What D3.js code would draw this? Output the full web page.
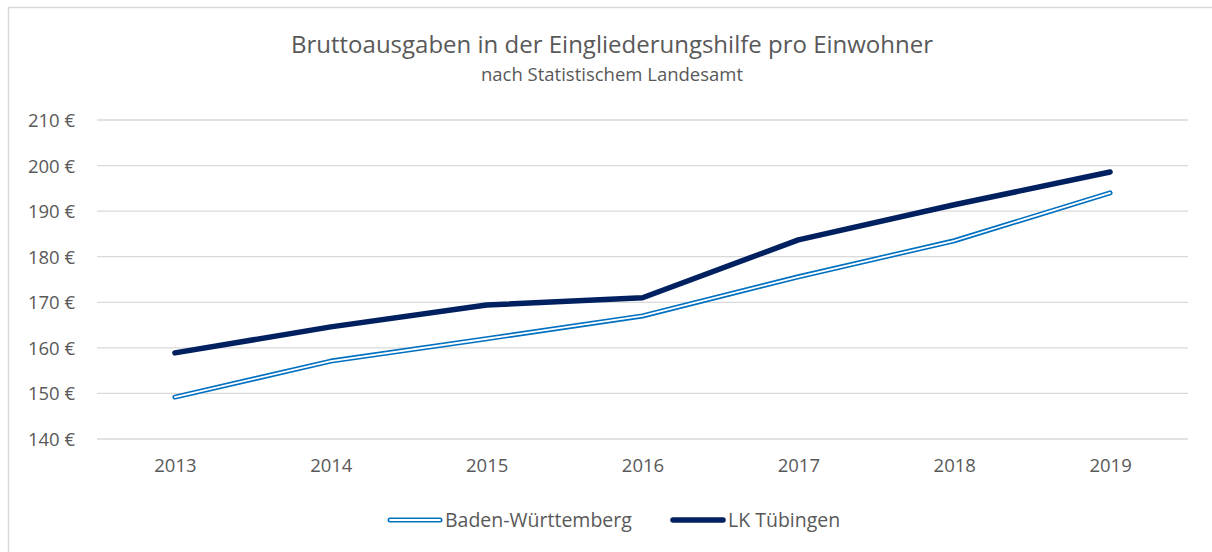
<!DOCTYPE html>
<html lang="de">
<head>
<meta charset="utf-8">
<title>Bruttoausgaben Eingliederungshilfe</title>
<script src="https://cdn.jsdelivr.net/npm/d3@7"></script>
<style>
body { margin: 0; background: #fff; }
text { font-family: "Open Sans", "Noto Sans", sans-serif; fill: #595959; }
</style>
</head>
<body>
<script>
// data
var years = ["2013", "2014", "2015", "2016", "2017", "2018", "2019"];
var bw = [149.2, 157.1, 162.0, 167.0, 175.6, 183.5, 194.0];
var tue = [158.9, 164.6, 169.4, 171.0, 183.7, 191.4, 198.6];
var yTicks = [140, 150, 160, 170, 180, 190, 200, 210];

var w = 1212, h = 552;
var plotLeft = 97, plotRight = 1188, plotTop = 120, plotBottom = 439;

var svg = d3.select("body").append("svg")
  .attr("width", w).attr("height", h);

// outer frame
svg.append("rect")
  .attr("x", 8.5).attr("y", 7.5)
  .attr("width", 1220).attr("height", 600)
  .attr("fill", "none").attr("stroke", "#d9d9d9").attr("stroke-width", 1.5);

var x = d3.scalePoint().domain(years).range([plotLeft, plotRight]).padding(0.5);
var y = d3.scaleLinear().domain([140, 210]).range([plotBottom, plotTop]);

// gridlines
svg.append("g").selectAll("line")
  .data(yTicks).enter().append("line")
  .attr("x1", plotLeft).attr("x2", plotRight)
  .attr("y1", function(d){ return y(d); })
  .attr("y2", function(d){ return y(d); })
  .attr("stroke", "#d9d9d9").attr("stroke-width", 1.3);

// y labels
var yAxis = d3.axisLeft(y).tickValues(yTicks)
  .tickFormat(function(d){ return d + " €"; })
  .tickSize(0).tickPadding(22);
var gy = svg.append("g").attr("transform", "translate(" + plotLeft + ",0)").call(yAxis);
gy.select(".domain").remove();
gy.selectAll("text").attr("font-size", "18.5px").attr("dy", "0.35em").style("fill", "#595959")
  .attr("font-family", "Open Sans");

// x labels
var xAxis = d3.axisBottom(x).tickSize(0).tickPadding(20);
var gx = svg.append("g").attr("transform", "translate(0," + plotBottom + ")").call(xAxis);
gx.select(".domain").remove();
gx.selectAll("text").attr("font-size", "18.5px").style("fill", "#595959")
  .attr("font-family", "Open Sans");

var line = d3.line()
  .x(function(d, i){ return x(years[i]); })
  .y(function(d){ return y(d); });

// Baden-Württemberg: double line
svg.append("path").datum(bw).attr("d", line)
  .attr("fill", "none").attr("stroke", "#0070c0").attr("stroke-width", 5)
  .attr("stroke-linecap", "round").attr("stroke-linejoin", "round");
svg.append("path").datum(bw).attr("d", line)
  .attr("fill", "none").attr("stroke", "#fff").attr("stroke-width", 1.8)
  .attr("stroke-linecap", "round").attr("stroke-linejoin", "round");

// LK Tübingen
svg.append("path").datum(tue).attr("d", line)
  .attr("fill", "none").attr("stroke", "#002060").attr("stroke-width", 5.5)
  .attr("stroke-linecap", "round").attr("stroke-linejoin", "round");

// title
svg.append("text").attr("x", 612).attr("y", 53)
  .attr("text-anchor", "middle").attr("font-size", "24px")
  .text("Bruttoausgaben in der Eingliederungshilfe pro Einwohner");
svg.append("text").attr("x", 612).attr("y", 81)
  .attr("text-anchor", "middle").attr("font-size", "18.5px")
  .text("nach Statistischem Landesamt");

// legend
var legend = [
  { name: "Baden-Württemberg", x: 390, dbl: true },
  { name: "LK Tübingen", x: 673, dbl: false }
];
var ly = 520;
legend.forEach(function(l){
  svg.append("line").attr("x1", l.x).attr("x2", l.x + 50).attr("y1", ly).attr("y2", ly)
    .attr("stroke", l.dbl ? "#0070c0" : "#002060").attr("stroke-width", l.dbl ? 5 : 5.5)
    .attr("stroke-linecap", "round");
  if (l.dbl) {
    svg.append("line").attr("x1", l.x).attr("x2", l.x + 50).attr("y1", ly).attr("y2", ly)
      .attr("stroke", "#fff").attr("stroke-width", 1.8).attr("stroke-linecap", "round");
  }
  svg.append("text").attr("x", l.x + 55).attr("y", ly).attr("dy", "0.35em")
    .attr("font-size", "19.5px").text(l.name);
});
</script>
</body>
</html>
